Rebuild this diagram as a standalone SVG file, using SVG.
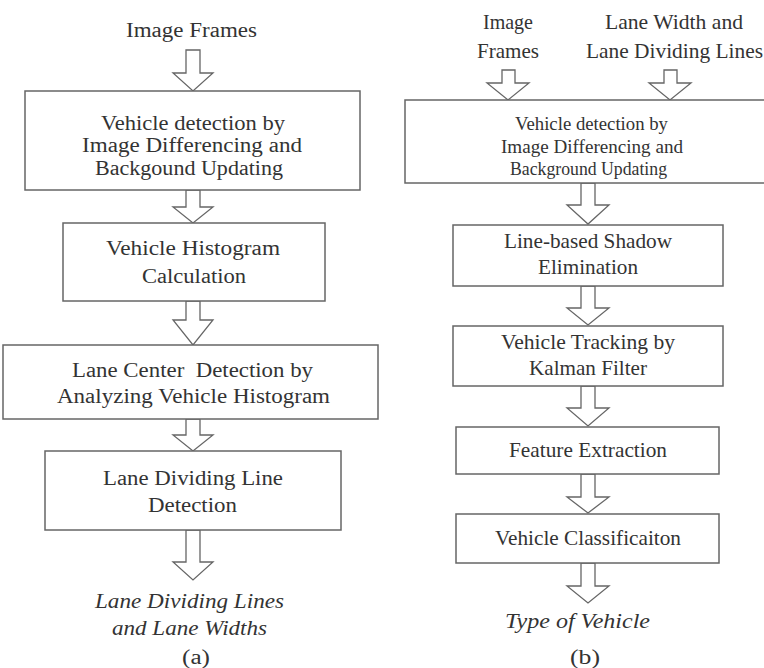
<svg xmlns="http://www.w3.org/2000/svg" width="764" height="668" viewBox="0 0 764 668">
<style>
.box{fill:#fff;stroke:#666;stroke-width:1.5}
.arr{fill:#fff;stroke:#666;stroke-width:1.3;stroke-linejoin:miter}
.t text{fill:#333;text-anchor:middle}
.l{font-size:20.5px}
.r{font-size:21px}
.rs{font-size:19.5px}
.it{font-style:italic}
</style>
<rect width="764" height="668" fill="#fff"/>
<g id="connectors">
<path class="arr" d="M186,50 L200,50 L200,73 L213,73 L193,91 L173,73 L186,73 Z"/>
<path class="arr" d="M186,190 L200,190 L200,207 L213,207 L193,223 L173,207 L186,207 Z"/>
<path class="arr" d="M186,301 L200,301 L200,320 L213,320 L193,345 L173,320 L186,320 Z"/>
<path class="arr" d="M186,419 L200,419 L200,435 L213,435 L193,451 L173,435 L186,435 Z"/>
<path class="arr" d="M186,530 L200,530 L200,562 L213,562 L193,580 L173,562 L186,562 Z"/>
<path class="arr" d="M502,70 L515,70 L515,83 L529,83 L508,100 L487,83 L502,83 Z"/>
<path class="arr" d="M664,70 L677,70 L677,83 L691,83 L670,100 L649,83 L664,83 Z"/>
<path class="arr" d="M581,183 L595,183 L595,205 L609,205 L588,224 L567,205 L581,205 Z"/>
<path class="arr" d="M581,286 L595,286 L595,308 L609,308 L588,325 L567,308 L581,308 Z"/>
<path class="arr" d="M581,386 L595,386 L595,408 L609,408 L588,426 L567,408 L581,408 Z"/>
<path class="arr" d="M581,474 L595,474 L595,497 L609,497 L588,513 L567,497 L581,497 Z"/>
<path class="arr" d="M581,563 L595,563 L595,586 L609,586 L588,603 L567,586 L581,586 Z"/>
</g>
<g class="t" font-family="'Liberation Serif', 'Times New Roman', Tinos, serif">
<g id="a-input">
<text class="l" x="191.5" y="37" textLength="131" lengthAdjust="spacingAndGlyphs">Image Frames</text>
</g>
<g id="a-detect">
<rect class="box" x="25" y="91" width="335" height="99"/>
<text class="l" x="193" y="130" textLength="184" lengthAdjust="spacingAndGlyphs">Vehicle detection by</text>
<text class="l" x="192" y="152" textLength="220" lengthAdjust="spacingAndGlyphs">Image Differencing and</text>
<text class="l" x="189" y="175" textLength="188" lengthAdjust="spacingAndGlyphs">Backgound Updating</text>
</g>
<g id="a-histogram">
<rect class="box" x="63" y="223" width="262" height="78"/>
<text class="l" x="193" y="255" textLength="174" lengthAdjust="spacingAndGlyphs">Vehicle Histogram</text>
<text class="l" x="194" y="283" textLength="104" lengthAdjust="spacingAndGlyphs">Calculation</text>
</g>
<g id="a-center">
<rect class="box" x="3" y="345" width="375" height="74"/>
<text class="l" x="192.5" y="377" textLength="241" lengthAdjust="spacingAndGlyphs" xml:space="preserve">Lane Center  Detection by</text>
<text class="l" x="193.5" y="403" textLength="273" lengthAdjust="spacingAndGlyphs">Analyzing Vehicle Histogram</text>
</g>
<g id="a-dividing">
<rect class="box" x="45" y="451" width="296" height="79"/>
<text class="l" x="193" y="485" textLength="180" lengthAdjust="spacingAndGlyphs">Lane Dividing Line</text>
<text class="l" x="192.5" y="512" textLength="89" lengthAdjust="spacingAndGlyphs">Detection</text>
</g>
<g id="a-output">
<text class="l it" x="189.5" y="608" textLength="189" lengthAdjust="spacingAndGlyphs">Lane Dividing Lines</text>
<text class="l it" x="189.5" y="635" textLength="155" lengthAdjust="spacingAndGlyphs">and Lane Widths</text>
</g>
<g id="a-caption">
<text class="l" x="196" y="664" textLength="28" lengthAdjust="spacingAndGlyphs">(a)</text>
</g>
<g id="b-input1">
<text class="r" x="508" y="29" textLength="50" lengthAdjust="spacingAndGlyphs">Image</text>
<text class="r" x="508" y="58" textLength="62" lengthAdjust="spacingAndGlyphs">Frames</text>
</g>
<g id="b-input2">
<text class="r" x="674" y="29" textLength="138" lengthAdjust="spacingAndGlyphs">Lane Width and</text>
<text class="r" x="674.5" y="58" textLength="177" lengthAdjust="spacingAndGlyphs">Lane Dividing Lines</text>
</g>
<g id="b-detect">
<rect class="box" x="405" y="100" width="370" height="83"/>
<text class="rs" x="591.5" y="130" textLength="153" lengthAdjust="spacingAndGlyphs">Vehicle detection by</text>
<text class="rs" x="592" y="153" textLength="182" lengthAdjust="spacingAndGlyphs">Image Differencing and</text>
<text class="rs" x="588.5" y="175" textLength="157" lengthAdjust="spacingAndGlyphs">Background Updating</text>
</g>
<g id="b-shadow">
<rect class="box" x="453" y="225" width="270" height="61"/>
<text class="r" x="588" y="248" textLength="168" lengthAdjust="spacingAndGlyphs">Line-based Shadow</text>
<text class="r" x="588" y="274" textLength="100" lengthAdjust="spacingAndGlyphs">Elimination</text>
</g>
<g id="b-tracking">
<rect class="box" x="453" y="326" width="270" height="60"/>
<text class="r" x="588" y="349" textLength="174" lengthAdjust="spacingAndGlyphs">Vehicle Tracking by</text>
<text class="r" x="588" y="375" textLength="118" lengthAdjust="spacingAndGlyphs">Kalman Filter</text>
</g>
<g id="b-feature">
<rect class="box" x="456" y="427" width="263" height="47"/>
<text class="r" x="588" y="457" textLength="158" lengthAdjust="spacingAndGlyphs">Feature Extraction</text>
</g>
<g id="b-classify">
<rect class="box" x="456" y="514" width="263" height="49"/>
<text class="r" x="588" y="545" textLength="186" lengthAdjust="spacingAndGlyphs">Vehicle Classificaiton</text>
</g>
<g id="b-output">
<text class="r it" x="577.5" y="628" textLength="145" lengthAdjust="spacingAndGlyphs">Type of Vehicle</text>
</g>
<g id="b-caption">
<text class="r" x="585" y="664" textLength="30" lengthAdjust="spacingAndGlyphs">(b)</text>
</g>
</g>
</svg>
